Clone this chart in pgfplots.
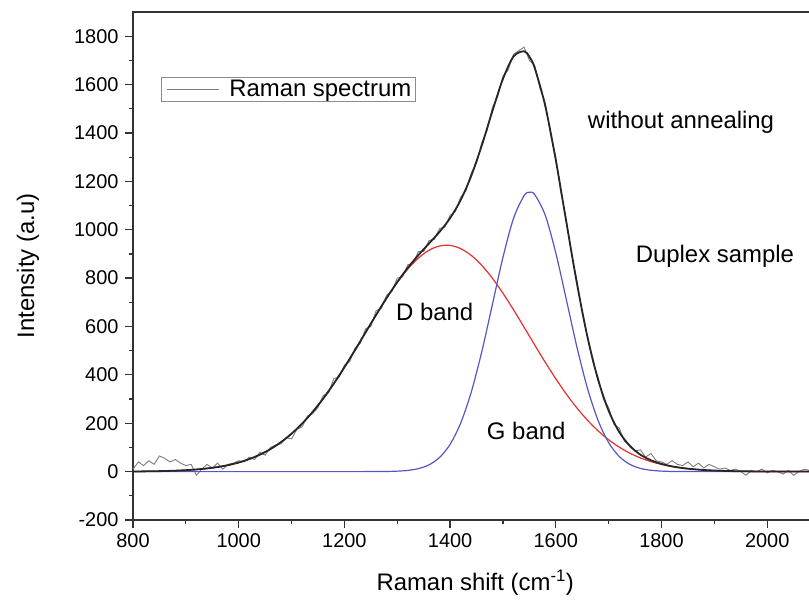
\documentclass[border=0pt]{standalone}
\usepackage{pgfplots}
\pgfplotsset{compat=1.18}
\usepackage{pgfplotstable}
\usepackage{fontspec}
\setmainfont{Liberation Sans}

\definecolor{specgray}{RGB}{125,125,125}
\definecolor{dred}{RGB}{232,45,45}
\definecolor{gblue}{RGB}{85,85,195}

% fitted bands: x, D band, G band, sum
\pgfplotstableread{
x D G S
800 0.6 0 0.6
820 1.0 0 1.0
840 1.6 0 1.6
860 2.5 0 2.5
880 3.9 0 3.9
900 6.0 0 6.0
920 8.9 0 8.9
940 13.1 0 13.1
960 18.9 0 18.9
980 26.9 0 26.9
1000 37.6 0 37.6
1020 51.8 0 51.8
1040 70.0 0 70.0
1060 93.1 0 93.1
1080 121.9 0 121.9
1100 156.8 0 156.8
1120 198.5 0 198.5
1140 247.1 0 247.1
1160 302.3 0 302.3
1180 364.1 0 364.1
1200 431.2 0 431.2
1220 502.1 0 502.1
1240 575.1 0.1 575.2
1260 647.7 0.2 647.9
1280 717.5 0.6 718.1
1300 781.6 1.9 783.5
1320 837.7 5.0 842.7
1340 882.8 12.3 895.1
1360 915.0 27.9 942.9
1380 932.7 58.5 991.2
1400 935.0 112.7 1047.7
1420 921.9 200.5 1122.4
1440 893.9 328.6 1222.5
1460 852.5 496.1 1348.6
1480 799.6 690.6 1490.2
1500 737.6 885.8 1623.4
1520 669.1 1047.1 1716.2
1540 597.0 1140.8 1737.8
1550 560.4 1155.0 1715.4
1560 523.9 1145.5 1669.4
1580 452.1 1060.1 1512.2
1600 383.8 904.0 1287.8
1620 320.3 710.6 1030.9
1640 263.0 514.7 777.7
1660 212.3 343.6 555.9
1680 168.6 211.5 380.1
1700 131.7 119.9 251.6
1720 101.1 62.6 163.7
1740 76.4 30.2 106.6
1760 56.7 13.4 70.1
1780 41.5 5.5 47.0
1800 29.8 2.1 31.9
1820 21.0 0.7 21.7
1840 14.6 0.2 14.8
1860 10.0 0.1 10.1
1880 6.7 0 6.7
1900 4.4 0 4.4
1920 2.9 0 2.9
1940 1.8 0 1.8
1960 1.2 0 1.2
1980 0.7 0 0.7
2000 0.5 0 0.5
2020 0.3 0 0.3
2040 0.2 0 0.2
2060 0.1 0 0.1
2080 0.1 0 0.1
2100 0 0 0
}\fits

% measured spectrum
\pgfplotstableread{
x y
800 10
810 40
820 25
830 45
840 30
850 65
860 55
870 40
880 50
890 35
900 25
910 30
920 -15
930 10
940 30
950 15
960 35
970 10
980 30
990 35
1000 45
1010 40
1020 60
1030 50
1040 80
1050 68
1060 100
1070 110
1080 115
1090 140
1100 135
1110 175
1120 185
1130 230
1140 240
1150 265
1160 315
1170 325
1180 385
1190 390
1200 440
1210 455
1220 510
1230 530
1240 590
1250 600
1260 665
1270 675
1280 730
1290 745
1300 800
1310 805
1320 855
1330 860
1340 910
1350 910
1360 955
1370 960
1380 1005
1390 1010
1400 1060
1410 1075
1420 1135
1430 1160
1440 1235
1450 1275
1460 1360
1470 1410
1480 1505
1490 1550
1500 1635
1510 1660
1520 1725
1530 1740
1540 1755
1550 1700
1560 1680
1570 1585
1580 1525
1590 1395
1600 1300
1610 1150
1620 1040
1630 895
1640 790
1650 655
1660 560
1670 455
1680 390
1690 300
1700 265
1710 195
1720 180
1730 125
1740 110
1750 85
1760 90
1770 60
1780 75
1790 45
1800 40
1810 30
1820 45
1830 30
1840 25
1850 40
1860 20
1870 35
1880 15
1890 30
1900 20
1910 10
1920 15
1930 5
1940 10
1950 0
1960 -15
1970 5
1980 0
1990 10
2000 -5
2010 5
2020 0
2030 -10
2040 5
2050 -15
2060 0
2070 10
2080 5
2090 0
2100 5
}\spec

\begin{document}
\begin{tikzpicture}
\begin{axis}[
  at={(0,0)}, anchor=south west,
  scale only axis, width=684.4bp, height=508bp,
  xmin=800, xmax=2095, ymin=-200, ymax=1900,
  xtick={800,1000,...,2000}, ytick={-200,0,...,1800},
  minor x tick num=1, minor y tick num=1,
  xtick pos=left, ytick pos=left,
  tick align=outside,
  major tick length=8bp, minor tick length=4bp,
  every tick/.style={black!80, line width=1.2bp},
  axis line style={black!80, line width=1.5bp},
  /pgf/number format/1000 sep={},
  /pgf/number format/assume math mode=true,
  tick label style={font=\fontsize{20}{22}\selectfont},
  xticklabel style={yshift=-2bp},
  yticklabel style={xshift=-3bp},
  every axis x label/.style={at={(axis description cs:0.5,0)}, anchor=center, yshift=-63bp},
  every axis y label/.style={at={(axis description cs:-0.1534,0.5)}, rotate=90, anchor=center},
  label style={font=\fontsize{24}{26}\selectfont},
  xlabel={Raman shift (cm\textsuperscript{-1})},
  ylabel={Intensity (a.u)},
  legend style={at={(0.0409,0.872)}, anchor=north west, draw=black!45, line width=0.8bp,
    inner xsep=2bp, inner ysep=1bp, font=\fontsize{24}{26}\selectfont},
  legend image code/.code={\draw[#1] (0bp,0bp) -- (52bp,0bp); \path (-3bp,0bp) (60bp,0bp);},
]
\addplot[specgray, line width=0.9bp] table[x=x, y=y] {\spec};
\addlegendentry{Raman spectrum}
\addplot[dred, line width=1.2bp, smooth, forget plot] table[x=x, y=D] {\fits};
\addplot[gblue, line width=1.2bp, smooth, forget plot] table[x=x, y=G] {\fits};
\addplot[black!85, line width=1.8bp, smooth, forget plot] table[x=x, y=S] {\fits};

\node[font=\fontsize{24}{26}\selectfont] at (axis cs:1837,1445) {without annealing};
\node[font=\fontsize{24}{26}\selectfont] at (axis cs:1901,890) {Duplex sample};
\node[font=\fontsize{24}{26}\selectfont] at (axis cs:1371,660) {D band};
\node[font=\fontsize{24}{26}\selectfont] at (axis cs:1544,170) {G band};
\end{axis}
\pgfresetboundingbox
\useasboundingbox (-133bp,-82bp) rectangle (676bp,520bp);
\end{tikzpicture}
\end{document}
